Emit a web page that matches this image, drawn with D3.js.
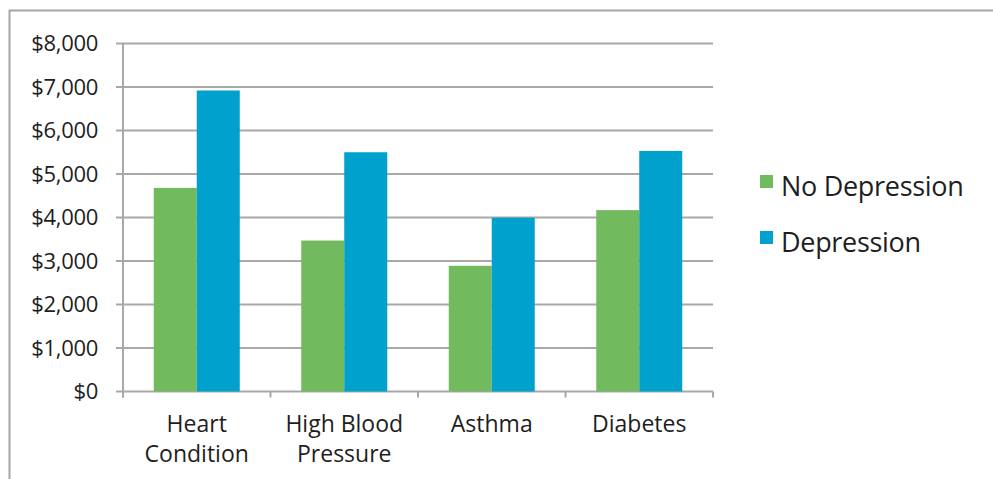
<!DOCTYPE html>
<html>
<head>
<meta charset="utf-8">
<script src="https://cdn.jsdelivr.net/npm/d3@7"></script>
<style>
  body { margin: 0; background: #fff; }
  text { font-family: "Open Sans", sans-serif; fill: #1e1e1e; }
</style>
</head>
<body>
<script>
// chart data
var categories = [["Heart", "Condition"], ["High Blood", "Pressure"], ["Asthma"], ["Diabetes"]];
var seriesNames = ["No Depression", "Depression"];
var noDepression = [4680, 3470, 2890, 4170];
var depression = [6920, 5500, 3995, 5530];
var yTicks = [0, 1000, 2000, 3000, 4000, 5000, 6000, 7000, 8000];
var colors = ["#71ba5e", "#00a1cc"];

var W = 993, H = 479;
var plot = {left: 123, right: 713, top: 43.5, bottom: 391.5};

var svg = d3.select("body").append("svg")
    .attr("width", W)
    .attr("height", H);

// outer frame (cropped on right and bottom)
svg.append("path")
    .attr("d", "M9.5," + H + "V10.5H" + W)
    .attr("fill", "none")
    .attr("stroke", "#a6a6a6")
    .attr("stroke-width", 2);

var x = d3.scaleBand()
    .domain(d3.range(categories.length))
    .range([plot.left, plot.right]);

var x1 = d3.scaleBand()
    .domain([0, 1])
    .range([0, 86]);

var y = d3.scaleLinear()
    .domain([0, 8000])
    .range([plot.bottom, plot.top]);

// gridlines + y labels
var yAxis = svg.append("g").attr("class", "y axis");
yAxis.selectAll("line")
    .data(yTicks)
  .enter().append("line")
    .attr("x1", plot.left - 7)
    .attr("x2", plot.right)
    .attr("y1", function(d) { return y(d); })
    .attr("y2", function(d) { return y(d); })
    .attr("stroke", "#a8a8a8")
    .attr("stroke-width", 2);

yAxis.selectAll("text")
    .data(yTicks)
  .enter().append("text")
    .attr("x", plot.left - 25)
    .attr("y", function(d) { return y(d); })
    .attr("dy", "0.36em")
    .attr("text-anchor", "end")
    .style("font-size", "22px")
    .style("letter-spacing", "-0.3px")
    .text(function(d) { return "$" + d3.format(",")(d); });

// bars
var groups = svg.selectAll(".group")
    .data(categories.map(function(c, i) { return [noDepression[i], depression[i]]; }))
  .enter().append("g")
    .attr("class", "group")
    .attr("transform", function(d, i) {
      return "translate(" + (x(i) + x.bandwidth() / 2 - 43) + ",0)";
    });

groups.selectAll("rect")
    .data(function(d) { return d; })
  .enter().append("rect")
    .attr("x", function(d, j) { return x1(j); })
    .attr("width", x1.bandwidth())
    .attr("y", function(d) { return y(d); })
    .attr("height", function(d) { return y(0) - y(d); })
    .attr("fill", function(d, j) { return colors[j]; });

// axis lines
svg.append("line")
    .attr("x1", plot.left).attr("x2", plot.left)
    .attr("y1", plot.top).attr("y2", plot.bottom + 6)
    .attr("stroke", "#a8a8a8").attr("stroke-width", 2);

var xTicks = d3.range(categories.length + 1).map(function(i) {
  return i < categories.length ? x(i) : plot.right;
});
svg.selectAll(".xtick")
    .data(xTicks)
  .enter().append("line")
    .attr("class", "xtick")
    .attr("x1", function(d) { return d; })
    .attr("x2", function(d) { return d; })
    .attr("y1", plot.bottom)
    .attr("y2", plot.bottom + 6)
    .attr("stroke", "#a8a8a8").attr("stroke-width", 2);

// category labels
svg.selectAll(".xlabel")
    .data(categories)
  .enter().append("text")
    .attr("class", "xlabel")
    .attr("text-anchor", "middle")
    .style("font-size", "23px")
    .attr("x", function(d, i) { return x(i) + x.bandwidth() / 2; })
    .attr("y", 432)
  .selectAll("tspan")
    .data(function(d) { return d; })
  .enter().append("tspan")
    .attr("x", function() { return d3.select(this.parentNode).attr("x"); })
    .attr("dy", function(d, k) { return k === 0 ? 0 : 30; })
    .text(function(d) { return d; });

// legend
var legend = svg.selectAll(".legend")
    .data(seriesNames)
  .enter().append("g")
    .attr("class", "legend")
    .attr("transform", function(d, i) { return "translate(760," + (175 + i * 56) + ")"; });

legend.append("rect")
    .attr("width", 13)
    .attr("height", 13)
    .attr("fill", function(d, i) { return colors[i]; });

legend.append("text")
    .attr("x", 21)
    .attr("y", 21)
    .style("font-size", "27px")
    .style("letter-spacing", "-0.3px")
    .text(function(d) { return d; });
</script>
</body>
</html>
